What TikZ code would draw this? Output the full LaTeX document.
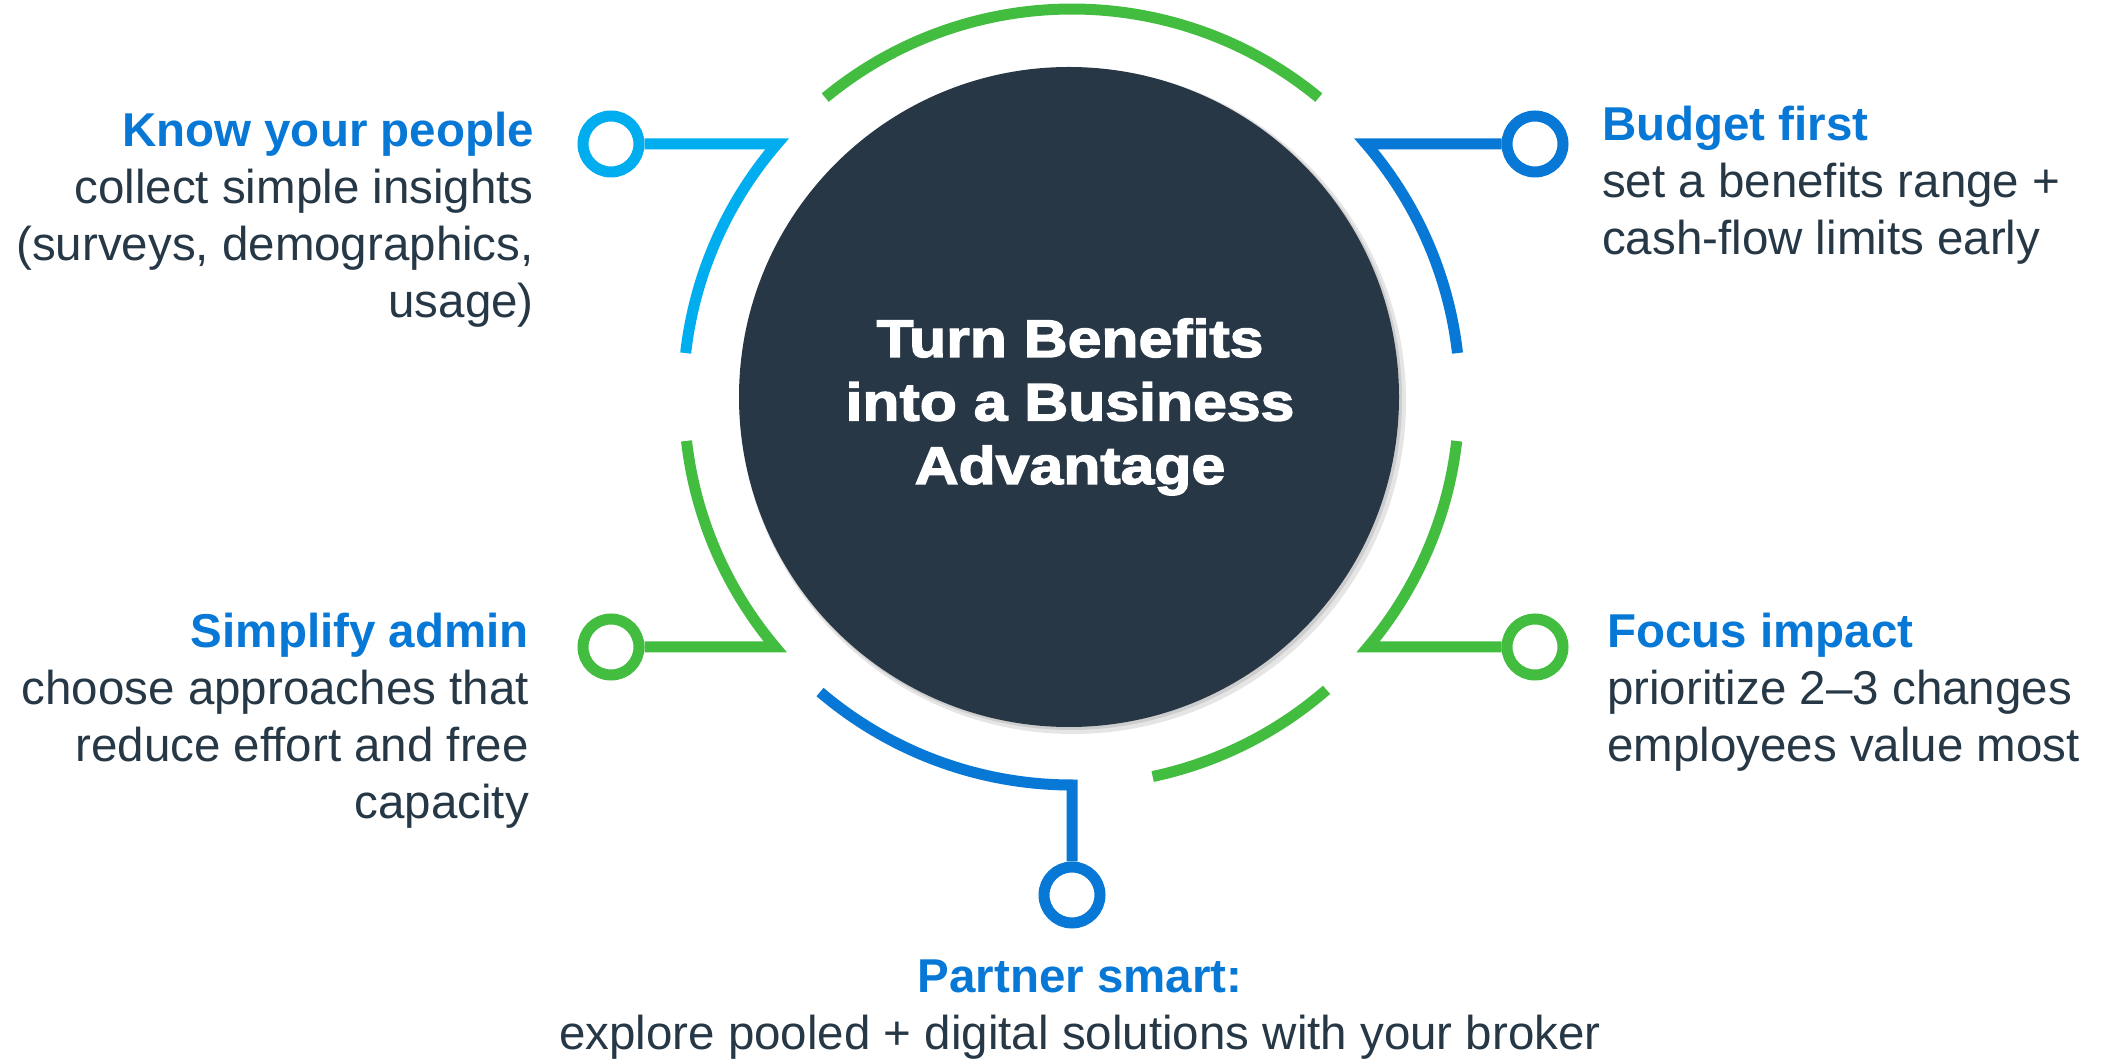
\documentclass[tikz,border=0pt]{standalone}
\usepackage{fontspec}
\setmainfont{Liberation Sans}
\newfontfamily\heavyfont[FakeStretch=1.146,FakeBold=2.6]{Liberation Sans}
\definecolor{navy}{RGB}{39,55,70}
\definecolor{ringgreen}{RGB}{66,189,64}
\definecolor{ringcyan}{RGB}{0,174,239}
\definecolor{ringblue}{RGB}{8,120,214}
\definecolor{bodytext}{RGB}{38,55,70}
\begin{document}
\begin{tikzpicture}[x=1pt,y=1pt,
  ringline/.style={line width=11pt, line join=miter, line cap=butt},
  dot/.style={circle, draw, line width=11pt, minimum size=56pt, inner sep=0pt, fill=white},
  txt/.style={text=bodytext, font=\fontsize{47.5pt}{57pt}\selectfont, inner sep=0pt}
]
\useasboundingbox (0,0) rectangle (2105,1060);
\fill[white] (0,0) rectangle (2105,1060);

% central disc with soft shadow
\fill[black, opacity=0.10] (1073,659) circle (333);
\fill[black, opacity=0.10] (1071,661) circle (331);
\node[circle, fill=navy, minimum size=660pt, inner sep=0pt] (hub) at (1069,663) {};
\node[text=white, font=\heavyfont\bfseries\fontsize{53pt}{63.5pt}\selectfont, align=center, anchor=base, inner sep=0pt] (hubtext) at (1070,576)
  {Turn Benefits\\into a Business\\Advantage};

% end dots
\node[dot, draw=ringcyan] (kp) at (611,916) {};
\node[dot, draw=ringblue] (bf) at (1535,916) {};
\node[dot, draw=ringgreen] (sa) at (611,413) {};
\node[dot, draw=ringgreen] (fi) at (1535,413) {};
\node[dot, draw=ringblue] (ps) at (1072,165) {};

% ring segments
\draw[ringline, ringgreen] (1072,663) ++(50.5:388) arc[start angle=50.5, end angle=129.5, radius=388];
\draw[ringline, ringcyan] (kp.east) -- (777,916) arc[start angle=139.3, end angle=173.5, radius=388];
\draw[ringline, ringgreen] (1072,663) ++(186.5:388) arc[start angle=186.5, end angle=220.1, radius=388] -- (sa.east);
\draw[ringline, ringblue] (1072,663) ++(229.5:388) arc[start angle=229.5, end angle=270, radius=388] -- (ps.north);
\draw[ringline, ringgreen] (1072,663) ++(282:388) arc[start angle=282, end angle=311, radius=388];
\draw[ringline, ringgreen] (fi.west) -- (1368,413) arc[start angle=319.9, end angle=353.5, radius=388];
\draw[ringline, ringblue] (1072,663) ++(6.5:388) arc[start angle=6.5, end angle=40.7, radius=388] -- (bf.west);

% labels (anchored at the baseline of their last line)
\node[txt, align=right, anchor=base east] (kpt) at (534,742)
  {{\color{ringblue}\bfseries Know your people}\\collect simple insights\\(surveys, demographics,\\usage)};
\node[txt, align=left, anchor=base west] (bft) at (1602,805)
  {{\color{ringblue}\bfseries Budget first}\\set a benefits range +\\cash-flow limits early};
\node[txt, align=right, anchor=base east] (sat) at (529,241)
  {{\color{ringblue}\bfseries Simplify admin}\\choose approaches that\\reduce effort and free\\capacity};
\node[txt, align=left, anchor=base west] (fit) at (1607,298)
  {{\color{ringblue}\bfseries Focus impact}\\prioritize 2–3 changes\\employees value most};
\node[txt, align=center, anchor=base] (pst) at (1080,10)
  {{\color{ringblue}\bfseries Partner smart:}\\explore pooled + digital solutions with your broker};
\end{tikzpicture}
\end{document}
